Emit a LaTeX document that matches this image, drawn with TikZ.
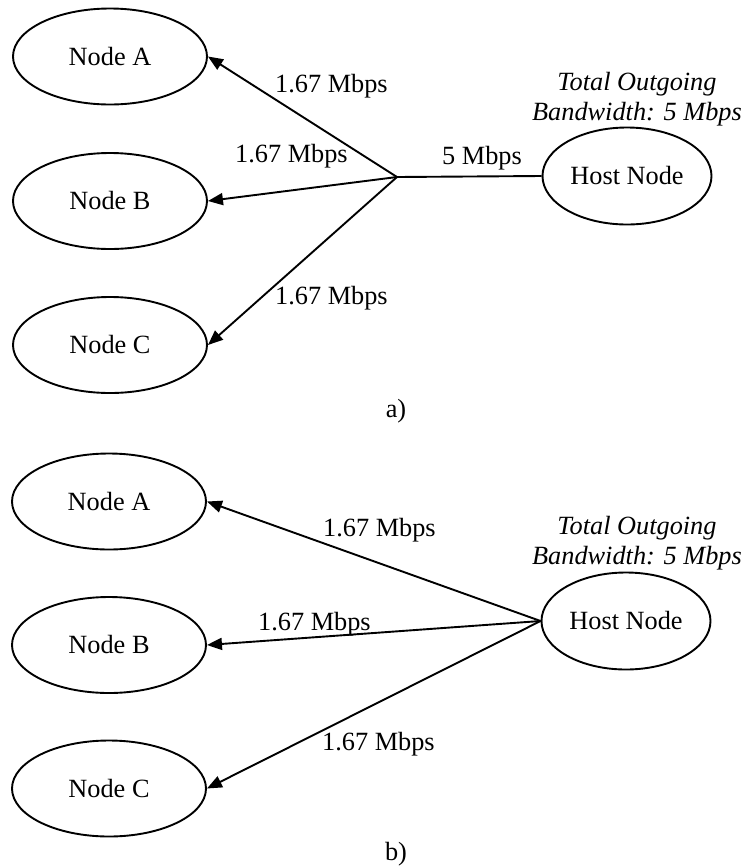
\documentclass[tikz,border=0pt]{standalone}
\usepackage{fontspec}
\setmainfont{Liberation Serif}
\usetikzlibrary{arrows.meta,shapes.geometric}
\begin{document}
\begin{tikzpicture}[x=1pt,y=-1pt,
  every node/.style={font=\fontsize{26.3}{30}\selectfont},
  peer/.style={draw,ellipse,line width=1.9pt,inner sep=0pt,
    minimum width=194pt,minimum height=96pt,text height=17.4pt,text depth=0pt},
  host/.style={peer,minimum width=169pt,minimum height=97pt},
  wire/.style={line width=1.9pt},
  link/.style={wire,-{Triangle[length=15pt,width=12pt]}},
  rate/.style={anchor=base west,inner sep=0pt},
  note/.style={anchor=base,inner sep=0pt,font=\fontsize{26.3}{30}\selectfont\itshape},
  caption/.style={anchor=base,inner sep=0pt},
]
\useasboundingbox (0,0) rectangle (744,868);

% (a) host feeds a relay point that splits the stream
\node[peer] (a1) at (110,56.5) {Node A};
\node[peer] (b1) at (110,201) {Node B};
\node[peer] (c1) at (110,345) {Node C};
\node[host] (h1) at (627,176) {Host Node};
\coordinate (j1) at (397,177);
\draw[wire] (h1.west) -- (j1);
\draw[link] (j1) -- (a1.east);
\draw[link] (j1) -- (b1.east);
\draw[link] (j1) -- (c1.east);
\node[rate] (ra1) at (275,92) {1.67 Mbps};
\node[rate] (rb1) at (235,162) {1.67 Mbps};
\node[rate] (rc1) at (275,304) {1.67 Mbps};
\node[rate] (rh1) at (442,164) {5 Mbps};
\node[note] (t1) at (637,90) {Total Outgoing};
\node[note] (w1) at (637,120) {Bandwidth: 5 Mbps};
\node[caption] (ca) at (396,417) {a)};

% (b) host sends to every peer directly
\node[peer] (a2) at (109,501.5) {Node A};
\node[peer] (b2) at (109,645) {Node B};
\node[peer] (c2) at (109,788.5) {Node C};
\node[host] (h2) at (626,621) {Host Node};
\draw[link] (h2.west) -- (a2.east);
\draw[link] (h2.west) -- (b2.east);
\draw[link] (h2.west) -- (c2.east);
\node[rate] (ra2) at (323,536) {1.67 Mbps};
\node[rate] (rb2) at (258,630) {1.67 Mbps};
\node[rate] (rc2) at (322,750) {1.67 Mbps};
\node[note] (t2) at (637,534) {Total Outgoing};
\node[note] (w2) at (637,564) {Bandwidth: 5 Mbps};
\node[caption] (cb) at (396,860) {b)};
\end{tikzpicture}
\end{document}
